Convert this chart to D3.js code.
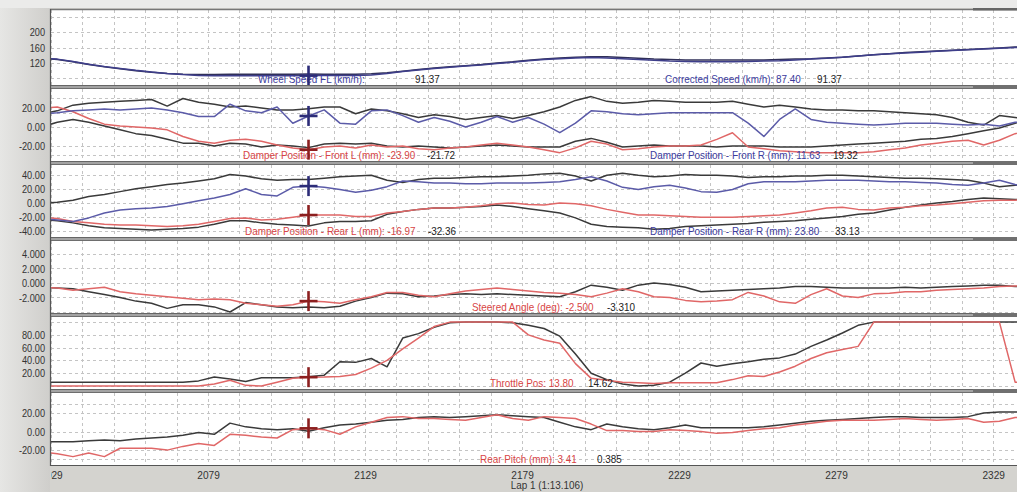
<!DOCTYPE html>
<html>
<head>
<meta charset="utf-8">
<script src="https://cdn.jsdelivr.net/npm/d3@7"></script>
<style>
  html, body { margin: 0; padding: 0; background: #d3d2ce; }
  svg { display: block; }
  text { font-family: "Liberation Sans", Arial, sans-serif; font-size: 11px; }
</style>
</head>
<body>
<svg id="chart" width="1017" height="492"></svg>
<script>
// ---- Sample distances (m) ----
const distance = [2026,2031,2036,2041,2046,2051,2056,2061,2066,2071,2076,2081,2086,2091,2096,2101,2106,2111,2116,2121,2126,2131,2136,2141,2146,2151,2156,2161,2166,2171,2176,2181,2186,2191,2196,2201,2206,2211,2216,2221,2226,2231,2236,2241,2246,2251,2256,2261,2266,2271,2276,2281,2286,2291,2296,2301,2306,2311,2316,2321,2326,2331,2336,2341];
const xTickValues = [2029, 2079, 2129, 2179, 2229, 2279, 2329];
const xTickLabels = ["2029", "2079", "2129", "2179", "2229", "2279", "2329"];
const cursorDistance = 2111;
const lapTitle = "Lap 1 (1:13.106)";

// ---- Speed (km/h) ----
const speedCurrent = [133,130,124,117,111,106,101,97,93,90,88,87,87,87,87,87,87,87.4,88,88,88,89,93,98,102,106,109,112,115,119,122,126,129,131,133,134,133,131,129,127,125,124,123,123,123,124,125,126,128,130,132,135,138,141,144,146,148,150,152,154,156,158,160,162];
const speedRef = [132,129,123,116,110,105,100,96,93,91,90,90,91,91,91,91,91,91.37,91,91,91,92,95,99,103,107,110,113,116,120,123,127,130,133,135,136,136,134,132,130,129,128,128,128,128,128,128,129,130,131,133,135,138,141,144,147,149,151,153,155,157,159,161,163];

// ---- Damper position front (mm) ----
const frontLCurrent = [20,21,16,9,3,1,0,-1,-3,-10,-15,-17,-14,-13,-15,-19,-22,-23.9,-21,-20,-22,-19,-21,-20,-23,-24,-22,-21,-19,-17,-19,-21,-24,-27,-22,-15,-18,-24,-23,-21,-20,-20,-19,-13,-6,-21,-23,-25,-26,-27,-27,-27,-27,-26,-24,-22,-19,-17,-15,-14,-19,-14,-7,-4];
const frontLRef = [0,5,8,5,1,-3,-7,-9,-13,-17,-17,-20,-17,-18,-21,-19,-20,-21.72,-18,-17,-18,-17,-20,-21,-20,-21,-22,-21,-20,-19,-20,-21,-21,-21,-15,-12,-16,-21,-20,-19,-20,-20,-20,-21,-20,-20,-20,-21,-21,-21,-20,-19,-18,-17,-16,-15,-13,-12,-10,-7,-4,-1,4,8];
const frontRCurrent = [14,15,17,18,19,18,19,20,18,15,11,11,24,17,15,21,4,11.63,18,4,3,17,18,12,5,10,6,0,5,11,5,10,3,-6,4,17,16,14,13,14,15,15,15,15,15,4,-10,8,19,8,5,4,3,2,3,4,4,4,3,2,3,1,5,6];
const frontRRef = [14,17,23,25,26,27,28,29,22,30,26,24,21,22,20,18,18,19.32,21,21,14,19,17,14,10,13,11,8,10,12,9,12,16,21,28,32,27,25,26,28,27,26,26,26,27,24,21,23,21,19,18,18,17,17,16,15,14,13,10,5,2,12,10,8];

// ---- Damper position rear (mm) ----
const rearLCurrent = [-20,-22,-26,-28,-30,-31,-31,-32,-33,-32,-30,-26,-22,-21,-24,-23,-20,-16.97,-17,-17,-19,-19,-14,-12,-9,-7,-7,-6,-4,-1,0,-2,-3,0,-1,-4,-9,-13,-17,-17,-18,-19,-20,-20,-20,-19,-18,-17,-14,-11,-7,-6,-9,-10,-7,-6,-4,-3,-1,1,3,4,4,5];
const rearLRef = [-23,-25,-28,-32,-35,-36,-37,-38,-37,-36,-34,-30,-25,-25,-28,-30,-31,-32.36,-28,-26,-26,-25,-16,-12,-9,-7,-7,-6,-5,-3,-5,-8,-11,-14,-21,-30,-33,-34,-35,-37,-36,-33,-32,-31,-30,-29,-27,-26,-25,-23,-21,-19,-16,-14,-10,-6,-3,0,2,5,7,6,5,4];
const rearRCurrent = [-22,-24,-26,-21,-14,-10,-8,-7,-5,-1,3,7,12,20,12,10,22,23.8,22,19,15,18,23,31,30,28,28,27,27,28,28,28,29,30,33,37,31,22,19,23,25,21,16,15,19,27,30,30,30,31,32,32,32,31,30,30,29,28,26,25,28,32,26,22];
const rearRRef = [-1,1,4,9,12,16,20,23,26,28,31,34,40,38,34,32,33,33.13,35,37,38,39,32,29,33,35,35,36,37,37,38,39,41,42,38,31,39,42,39,37,38,40,39,39,38,36,37,37,38,38,39,39,38,37,36,35,35,34,33,32,28,23,25,26];

// ---- Steered angle (deg) ----
const steerCurrent = [-0.6,-0.7,-1.0,-0.8,-0.6,-1.2,-1.5,-1.7,-1.9,-2.1,-2.3,-2.2,-2.3,-2.8,-3.0,-3.2,-3.0,-2.5,-2.6,-2.8,-2.3,-1.9,-1.3,-1.3,-1.7,-1.9,-1.5,-1.1,-0.9,-0.7,-0.9,-1.1,-1.3,-1.4,-1.6,-1.9,-1.4,-0.8,-1.2,-1.9,-2.0,-2.4,-2.6,-2.5,-2.3,-1.3,-1.8,-2.6,-2.8,-1.6,-0.8,-1.8,-2.0,-1.5,-1.4,-1.2,-1.2,-1.0,-0.9,-0.8,-0.7,-0.5,-0.4,-0.4];
const steerRef = [-0.6,-0.7,-0.8,-1.2,-1.6,-2.0,-2.5,-2.8,-3.5,-3.0,-3.0,-3.3,-4.0,-2.7,-3.0,-3.3,-3.4,-3.31,-3.4,-3.2,-2.5,-2.0,-1.4,-1.5,-1.9,-1.8,-1.6,-1.5,-1.6,-1.5,-1.6,-1.7,-1.8,-1.9,-1.2,-0.3,-0.6,-1.0,-0.3,0.0,-0.2,-0.6,-1.2,-1.1,-1.0,-0.9,-0.8,-0.7,-0.5,-0.5,-0.6,-0.7,-0.7,-0.7,-0.7,-0.6,-0.7,-0.6,-0.5,-0.4,-0.3,-0.3,-0.5,-0.5];

// ---- Throttle position (%) ----
const throttleCurrent = [0,0,0,0,0,0,0,0,0,0,0,3,9,1,0,6,12,13.8,14,15,18,28,40,58,75,93,100,100,100,100,100,80,72,67,35,12,9,6,5,4,5,5,5,5,10,16,15,22,31,43,52,57,62,100,100,100,100,100,100,100,100,100,6,6];
const throttleRef = [6,6,6,6,6,6,6,6,6,6,8,14,11,7,13,13,13,14.62,17,38,37,43,30,75,82,92,99,100,100,100,99,95,90,78,50,20,10,3,0,1,6,20,36,31,35,38,42,44,50,62,72,83,95,100,100,100,100,100,100,100,100,100,100,100];

// ---- Rear pitch (mm) ----
const pitchCurrent = [-22,-24,-27,-23,-27,-18,-18,-18,-20,-16,-13,-15,-3,-4,-6,-7,2,3.41,2,-3,5,10,15,16,14,14,13,12,15,18,14,12,16,15,14,8,1,1,0,0,2,1,0,-2,-1,1,3,4,7,9,11,12,12,12,13,14,13,12,13,14,10,11,15,16];
const pitchRef = [-11,-11,-11,-10,-9,-10,-8,-7,-6,-4,-1,-3,9,5,3,2,3,0.385,4,7,8,10,12,13,15,16,15,16,17,18,17,16,15,10,5,2,8,5,3,2,4,7,4,4,4,4,5,7,9,11,12,13,14,15,16,16,15,15,15,16,20,21,21,21];

// plain hyphen for negative numbers
const locale = d3.formatLocale({ decimal: ".", thousands: ",", grouping: [3], currency: ["", ""], minus: "-" });
const fmt = s => locale.format(s);

// ---- Styling ----
const COL = {
  red: "#e06767", redText: "#d84545", redCross: "#8c1f1f",
  blue: "#5b5ba8", blueText: "#3b3b9e", blueCross: "#2c2c78",
  navy: "#3e3e8a", ref: "#3a3a3a", refText: "#222"
};

const panels = [
  { top: 10, bottom: 85, domain: [63.2, 256.8], ticks: [120, 160, 200], grid: [80, 120, 160, 200, 240], fmt: fmt("d"),
    lines: [ { data: speedRef, color: "#303058" }, { data: speedCurrent, color: COL.navy } ],
    crosses: [ { data: speedCurrent, color: COL.blueCross } ],
    labels: [
      { x: 258, y: 83, text: "Wheel Speed FL (km/h):", color: COL.blueText },
      { x: 415, y: 83, data: speedRef, f: ".2f", color: COL.refText },
      { x: 665, y: 83, text: "Corrected Speed (km/h): ", data: speedCurrent, f: ".2f", color: COL.blueText },
      { x: 817, y: 83, data: speedRef, f: ".2f", color: COL.refText } ] },
  { top: 89, bottom: 161, domain: [-35.8, 40], ticks: [-20, 0, 20], grid: [-30, -20, 0, 15, 30], fmt: fmt(".2f"),
    lines: [ { data: frontLRef, color: COL.ref }, { data: frontRRef, color: COL.ref },
             { data: frontLCurrent, color: COL.red }, { data: frontRCurrent, color: COL.blue } ],
    crosses: [ { data: frontRCurrent, color: COL.blueCross }, { data: frontLCurrent, color: COL.redCross } ],
    labels: [
      { x: 243, y: 159, text: "Damper Position - Front L (mm): ", data: frontLCurrent, f: ".2f", color: COL.redText },
      { x: 427, y: 159, data: frontLRef, f: ".2f", color: COL.refText },
      { x: 650, y: 159, text: "Damper Position - Front R (mm): ", data: frontRCurrent, f: ".2f", color: COL.blueText },
      { x: 833, y: 159, data: frontRRef, f: ".2f", color: COL.refText } ] },
  { top: 165, bottom: 237, domain: [-47.9, 53.5], ticks: [-40, -20, 0, 20, 40], grid: [-40, -20, 0, 20, 40], fmt: fmt(".2f"),
    lines: [ { data: rearLRef, color: COL.ref }, { data: rearRRef, color: COL.ref },
             { data: rearLCurrent, color: COL.red }, { data: rearRCurrent, color: COL.blue } ],
    crosses: [ { data: rearRCurrent, color: COL.blueCross }, { data: rearLCurrent, color: COL.redCross } ],
    labels: [
      { x: 245, y: 235, text: "Damper Position - Rear L (mm): ", data: rearLCurrent, f: ".2f", color: COL.redText },
      { x: 428, y: 235, data: rearLRef, f: ".2f", color: COL.refText },
      { x: 650, y: 235, text: "Damper Position - Rear R (mm): ", data: rearRCurrent, f: ".2f", color: COL.blueText },
      { x: 835, y: 235, data: rearRRef, f: ".2f", color: COL.refText } ] },
  { top: 241, bottom: 313, domain: [-4.14, 5.79], ticks: [-2, 0, 2, 4], grid: [-4, -2, 0, 2, 4], fmt: fmt(".3f"),
    lines: [ { data: steerRef, color: COL.ref }, { data: steerCurrent, color: COL.red } ],
    crosses: [ { data: steerCurrent, color: COL.redCross } ],
    labels: [
      { x: 472, y: 311, text: "Steered Angle (deg): ", data: steerCurrent, f: ".3f", color: COL.redText },
      { x: 607, y: 311, data: steerRef, f: ".3f", color: COL.refText } ] },
  { top: 317, bottom: 389, domain: [-4.7, 108], ticks: [20, 40, 60, 80], grid: [0, 20, 40, 60, 80, 100], fmt: fmt(".2f"),
    lines: [ { data: throttleRef, color: COL.ref }, { data: throttleCurrent, color: COL.red } ],
    crosses: [ { data: throttleCurrent, color: COL.redCross } ],
    labels: [
      { x: 490, y: 387, text: "Throttle Pos: ", data: throttleCurrent, f: ".2f", color: COL.redText },
      { x: 588, y: 387, data: throttleRef, f: ".2f", color: COL.refText } ] },
  { top: 393, bottom: 465, domain: [-36, 41.4], ticks: [-20, 0, 20], grid: [-30, -20, 0, 20, 30], fmt: fmt(".2f"),
    lines: [ { data: pitchRef, color: COL.ref }, { data: pitchCurrent, color: COL.red } ],
    crosses: [ { data: pitchCurrent, color: COL.redCross } ],
    labels: [
      { x: 480, y: 463, text: "Rear Pitch (mm): ", data: pitchCurrent, f: ".2f", color: COL.redText },
      { x: 597, y: 463, data: pitchRef, f: ".3f", color: COL.refText } ] }
];

const W = 1017, H = 492;
const plotL = 51, plotR = 1017;
const LABEL_SX = 0.9, TICK_SX = 0.8, AXIS_SX = 0.92;
const svg = d3.select("#chart");
const defs = svg.append("defs");

// window background
const grad = defs.append("linearGradient").attr("id", "leftShade").attr("x1", 0).attr("x2", 1).attr("y1", 0).attr("y2", 0);
grad.append("stop").attr("offset", 0).attr("stop-color", "#e6e6e4");
grad.append("stop").attr("offset", 1).attr("stop-color", "#cfcecb");
svg.append("rect").attr("width", W).attr("height", H).attr("fill", "#d4d3cf");
svg.append("rect").attr("x", 0).attr("y", 0).attr("width", 50).attr("height", H).attr("fill", "url(#leftShade)");
svg.append("rect").attr("x", 0).attr("y", 0).attr("width", W).attr("height", 8).attr("fill", "#ebebea");

// condensed text placed at (x, y)
function condensedText(parent, x, y, sx) {
  return parent.append("text").attr("transform", `translate(${x},${y}) scale(${sx},1)`);
}

const x = d3.scaleLinear().domain([2029, 2336.6]).range([plotL, plotR]);
const cursorIndex = distance.indexOf(cursorDistance);
const cx = x(cursorDistance);
const gridDistances = d3.range(2029, 2340, 10);

panels.forEach((p, k) => {
  const y = d3.scaleLinear().domain(p.domain).range([p.bottom, p.top]);
  const g = svg.append("g");
  const clipId = "clip" + k;
  defs.append("clipPath").attr("id", clipId)
    .append("rect").attr("x", plotL).attr("y", p.top).attr("width", plotR - plotL).attr("height", p.bottom - p.top);

  g.append("rect").attr("x", plotL).attr("y", p.top).attr("width", plotR - plotL).attr("height", p.bottom - p.top).attr("fill", "#ffffff");

  const gridG = g.append("g").attr("clip-path", `url(#${clipId})`)
    .attr("stroke", "#c4c4c4").attr("stroke-width", 1).attr("stroke-dasharray", "3,3");
  gridG.selectAll("line.h").data(p.grid).join("line").attr("class", "h")
    .attr("x1", plotL).attr("x2", plotR)
    .attr("y1", d => Math.round(y(d)) + 0.5).attr("y2", d => Math.round(y(d)) + 0.5);
  gridG.selectAll("line.v").data(gridDistances).join("line").attr("class", "v")
    .attr("y1", p.top).attr("y2", p.bottom)
    .attr("x1", d => Math.round(x(d)) + 0.5).attr("x2", d => Math.round(x(d)) + 0.5);

  const line = d3.line().x((d, i) => x(distance[i])).y(d => y(d));
  const linesG = g.append("g").attr("clip-path", `url(#${clipId})`);
  p.lines.forEach(s => {
    linesG.append("path").datum(s.data).attr("d", line)
      .attr("fill", "none").attr("stroke", s.color).attr("stroke-width", 1.5)
      .attr("stroke-linejoin", "round");
  });

  // y tick labels
  p.ticks.forEach(t => {
    condensedText(g, 45, y(t), TICK_SX).attr("dy", "0.35em")
      .attr("text-anchor", "end").attr("fill", "#333").style("font-size", "11.5px").text(p.fmt(t));
  });

  // channel read-outs at cursor
  p.labels.forEach(l => {
    const val = l.data ? fmt(l.f)(l.data[cursorIndex]) : "";
    condensedText(g, l.x, l.y, LABEL_SX).attr("fill", l.color).text((l.text || "") + val);
  });

  // cursor crosses
  p.crosses.forEach(c => {
    const cy = y(c.data[cursorIndex]);
    const cg = g.append("g").attr("stroke", c.color).attr("stroke-width", 2.6).attr("stroke-linecap", "butt");
    cg.append("line").attr("x1", cx).attr("x2", cx).attr("y1", cy - 10).attr("y2", cy + 10);
    cg.append("line").attr("x1", cx - 9).attr("x2", cx + 9).attr("y1", cy).attr("y2", cy);
  });
});

// panel frames and separators
svg.append("line").attr("x1", plotL - 1).attr("x2", plotR).attr("y1", 9.5).attr("y2", 9.5).attr("stroke", "#777").attr("stroke-width", 1.5);
svg.append("rect").attr("x", 973).attr("y", 8).attr("width", plotR - 973).attr("height", 2.5).attr("fill", "#666");
for (let k = 0; k < panels.length - 1; k++) {
  const y0 = panels[k].bottom, y1 = panels[k + 1].top;
  svg.append("rect").attr("x", plotL - 1).attr("y", y0).attr("width", plotR - plotL + 1).attr("height", y1 - y0)
    .attr("fill", "#a3a3a3");
  svg.append("line").attr("x1", plotL - 1).attr("x2", plotR).attr("y1", y0 + 0.5).attr("y2", y0 + 0.5).attr("stroke", "#666");
  svg.append("line").attr("x1", plotL - 1).attr("x2", plotR).attr("y1", y1 - 0.5).attr("y2", y1 - 0.5).attr("stroke", "#6e6e6e");
  svg.append("rect").attr("x", 973).attr("y", y0).attr("width", plotR - 973).attr("height", y1 - y0).attr("fill", "#707070");
}
svg.append("line").attr("x1", plotL - 1).attr("x2", plotR).attr("y1", 465.5).attr("y2", 465.5).attr("stroke", "#555").attr("stroke-width", 1.2);
svg.append("line").attr("x1", plotL - 0.5).attr("x2", plotL - 0.5).attr("y1", 9).attr("y2", 466).attr("stroke", "#555").attr("stroke-width", 1.2);

// distance axis (labels clipped at the plot's left edge)
defs.append("clipPath").attr("id", "xclip").append("rect").attr("x", plotL).attr("y", 466).attr("width", plotR - plotL).attr("height", 20);
const xAxis = d3.axisBottom(x).tickValues(xTickValues).tickSize(0).tickPadding(0)
  .tickFormat((d, i) => xTickLabels[i]);
const axWrap = svg.append("g").attr("clip-path", "url(#xclip)");
const axG = axWrap.append("g").attr("transform", "translate(0,471)").call(xAxis);
axG.select(".domain").remove();
axG.selectAll("text").attr("fill", "#333").attr("transform", `scale(${AXIS_SX},1)`)
  .style("font-size", "11px").style("font-family", "'Liberation Sans', Arial, sans-serif");

condensedText(svg, 547, 489, LABEL_SX).attr("text-anchor", "middle").attr("fill", "#333").text(lapTitle);
</script>
</body>
</html>
